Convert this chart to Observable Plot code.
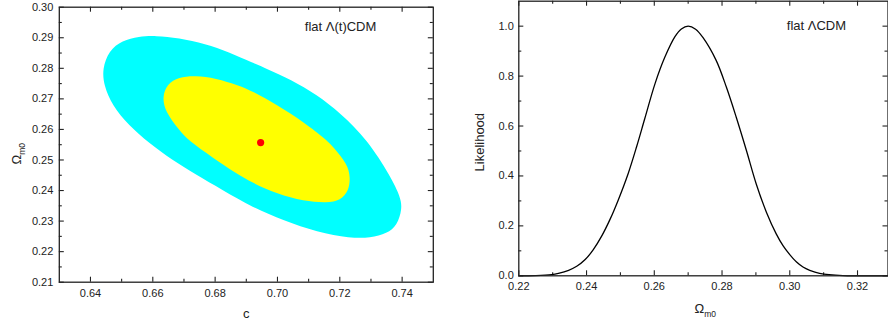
<!DOCTYPE html>
<html><head><meta charset="utf-8">
<script src="https://cdn.jsdelivr.net/npm/d3@7"></script>
<script src="https://cdn.jsdelivr.net/npm/@observablehq/plot@0.6"></script>
<style>
html,body{margin:0;padding:0;background:#fff;overflow:hidden}
body{width:888px;height:327px;position:relative;font-family:"Liberation Sans",Arial,sans-serif}
#left,#right{position:absolute;top:0;width:450px;height:327px}
#left{left:0}
#right{left:440px}
</style></head>
<body><div id="left"></div><div id="right"></div>
<script>
// ---------- data ----------
const cTicks = [0.64, 0.66, 0.68, 0.70, 0.72, 0.74];
const cMinor = [0.65, 0.67, 0.69, 0.71, 0.73];
const omTicks = [0.21, 0.22, 0.23, 0.24, 0.25, 0.26, 0.27, 0.28, 0.29, 0.30];
const omMinor = [0.215, 0.225, 0.235, 0.245, 0.255, 0.265, 0.275, 0.285, 0.295];
const omRTicks = [0.22, 0.24, 0.26, 0.28, 0.30, 0.32];
const omRMinor = [0.23, 0.25, 0.27, 0.29, 0.31];
const likeTicks = [0.0, 0.2, 0.4, 0.6, 0.8, 1.0];
const likeMinor = [0.1, 0.3, 0.5, 0.7, 0.9];

// 2-sigma (outer) and 1-sigma (inner) contour outlines [c, Omega_m0]
const outerContour = [
  [0.6438,0.2798],[0.6459,0.2858],[0.6502,0.2891],[0.6555,0.2904],[0.6609,0.2907],
  [0.6683,0.2899],[0.6769,0.2880],[0.6844,0.2853],[0.6920,0.2818],[0.6967,0.2798],
  [0.7042,0.2764],[0.7127,0.2713],[0.7202,0.2653],[0.7288,0.2567],[0.7363,0.2446],
  [0.7395,0.2378],[0.7400,0.2340],[0.7384,0.2286],[0.7352,0.2260],[0.7298,0.2245],
  [0.7234,0.2244],[0.7127,0.2264],[0.7020,0.2302],[0.6920,0.2345],[0.6823,0.2402],
  [0.6737,0.2453],[0.6662,0.2500],[0.6587,0.2556],[0.6523,0.2613],[0.6470,0.2678],
  [0.6443,0.2744]
];
const innerContour = [
  [0.6630,0.2706],[0.6646,0.2749],[0.6683,0.2771],[0.6737,0.2776],[0.6801,0.2768],
  [0.6876,0.2744],[0.6920,0.2725],[0.6999,0.2680],[0.7084,0.2624],[0.7159,0.2564],
  [0.7181,0.2540],[0.7224,0.2487],[0.7234,0.2444],[0.7229,0.2400],[0.7202,0.2367],
  [0.7159,0.2360],[0.7084,0.2365],[0.6999,0.2389],[0.6920,0.2425],[0.6865,0.2458],
  [0.6791,0.2509],[0.6716,0.2562],[0.6683,0.2600],[0.6641,0.2656]
];
const bestFit = [[0.6946, 0.2557]];

// likelihood curve for flat LCDM
const omGrid =     [0.2200,0.2250,0.2297,0.2317,0.2347,0.2371,0.2396,0.2420,0.2445,0.2470,0.2494,0.2523,0.2548,0.2572,0.2602,0.2631,0.2661,0.2680,0.2700,
                    0.2722,0.2744,0.2783,0.2813,0.2842,0.2872,0.2901,0.2931,0.2960,0.2980,0.3000,0.3020,0.3039,0.3059,0.3088,0.3157,0.3290];
const likelihood = [0.000, 0.001, 0.005, 0.010, 0.022, 0.038, 0.065, 0.105, 0.160, 0.228, 0.305, 0.410, 0.518, 0.630, 0.769, 0.875, 0.958, 0.989, 1.000,
                    0.988, 0.954, 0.862, 0.755, 0.635, 0.502, 0.368, 0.255, 0.168, 0.121, 0.085, 0.055, 0.035, 0.022, 0.010, 0.001, 0.000];

// ---------- helpers ----------
const INK = "#222";
// inward ticks on all four sides of the frame (inset = frame size minus tick length, in px)
function boxTicks(xs, ys, len, innerW, innerH) {
  const o = {stroke: INK, strokeWidth: 1.1};
  return [
    Plot.ruleX(xs, {x: d => d, insetTop: innerH - len, ...o}),
    Plot.ruleX(xs, {x: d => d, insetBottom: innerH - len, ...o}),
    Plot.ruleY(ys, {y: d => d, insetRight: innerW - len, ...o}),
    Plot.ruleY(ys, {y: d => d, insetLeft: innerW - len, ...o})
  ];
}
function subscriptify(svg) {
  d3.select(svg).selectAll("text").each(function() {
    if (this.textContent === "Ωm0") {
      const s = d3.select(this);
      s.text(null);
      s.append("tspan").text("Ω");
      s.append("tspan").attr("font-size", 8.5).attr("dy", 4).text("m0");
    }
  });
}
const baseStyle = {fontFamily: "'Liberation Sans', Arial, sans-serif", fontSize: "11px", color: INK, background: "#fff", maxWidth: "none", overflow: "visible"};

// ---------- left panel ----------
{
  const W = 450, H = 327, ml = 58.8, mr = 17.2, mt = 6.7, mb = 45.3;
  const innerW = W - ml - mr, innerH = H - mt - mb;
  const xd = [0.63, 0.75], yd = [0.21, 0.30];
  const chart = Plot.plot({
    width: W, height: H, marginLeft: ml, marginRight: mr, marginTop: mt, marginBottom: mb,
    style: baseStyle,
    x: {domain: xd, label: null}, y: {domain: yd, label: null},
    marks: [
      Plot.line(outerContour, {x: d => d[0], y: d => d[1], fill: "#00FFFF", stroke: "none", curve: "basis-closed"}),
      Plot.line(innerContour, {x: d => d[0], y: d => d[1], fill: "#FFFF00", stroke: "none", curve: "basis-closed"}),
      Plot.dot(bestFit, {x: d => d[0], y: d => d[1], r: 3.6, fill: "#FF0000", stroke: "none"}),
      ...boxTicks(cTicks, omTicks, 5, innerW, innerH),
      ...boxTicks(cMinor, omMinor, 3, innerW, innerH),
      Plot.frame({stroke: INK, strokeWidth: 1.3}),
      Plot.axisX(cTicks, {tickSize: 0, tickPadding: 7, tickFormat: d => d.toFixed(2), fontSize: 11, fill: INK, label: null}),
      Plot.axisY(omTicks, {tickSize: 0, tickPadding: 6, tickFormat: d => d.toFixed(2), fontSize: 11, fill: INK, label: null}),
      Plot.text(["c"], {frameAnchor: "bottom", text: d => d, dy: 31.5, lineAnchor: "middle", fontSize: 13, fill: INK}),
      Plot.text(["Ωm0"], {frameAnchor: "left", text: d => d, dx: -42.5, dy: 9, rotate: -90, lineAnchor: "middle", textAnchor: "middle", fontSize: 13, fill: INK}),
      Plot.text(["flat Λ(t)CDM"], {frameAnchor: "top-right", text: d => d, dx: -128.5, dy: 20, textAnchor: "start", lineAnchor: "middle", fontSize: 13, fill: INK})
    ]
  });
  subscriptify(chart);
  document.getElementById("left").appendChild(chart);
}

// ---------- right panel ----------
{
  const W = 450, H = 327, ml = 78.3, mr = 2.5, mt = 0.7, mb = 51.7;
  const innerW = W - ml - mr, innerH = H - mt - mb;
  const xd = [0.22, 0.329], yd = [0, 1.1];
  const pts = omGrid.map((om, i) => ({om, L: likelihood[i]}));
  const chart = Plot.plot({
    width: W, height: H, marginLeft: ml, marginRight: mr, marginTop: mt, marginBottom: mb,
    style: baseStyle,
    x: {domain: xd, label: null}, y: {domain: yd, label: null},
    marks: [
      ...boxTicks(omRTicks, likeTicks, 5, innerW, innerH),
      ...boxTicks(omRMinor, likeMinor, 3, innerW, innerH),
      Plot.line(pts, {x: "om", y: "L", curve: "catmull-rom", stroke: "#000", strokeWidth: 1.3}),
      Plot.frame({stroke: INK, strokeWidth: 1.3}),
      Plot.axisX(omRTicks, {tickSize: 0, tickPadding: 6, tickFormat: d => d.toFixed(2), fontSize: 11, fill: INK, label: null}),
      Plot.axisY(likeTicks, {tickSize: 0, tickPadding: 5, tickFormat: d => d.toFixed(1), fontSize: 11, fill: INK, label: null}),
      Plot.text(["Ωm0"], {frameAnchor: "bottom", text: d => d, dx: 1.8, dy: 33.2, lineAnchor: "middle", textAnchor: "middle", fontSize: 13, fill: INK}),
      Plot.text(["Likelihood"], {frameAnchor: "left", text: d => d, dx: -38.8, dy: 3.7, rotate: -90, lineAnchor: "middle", textAnchor: "middle", fontSize: 13, fill: INK}),
      Plot.text(["flat ΛCDM"], {frameAnchor: "top-right", text: d => d, dx: -101.2, dy: 24.8, textAnchor: "start", lineAnchor: "middle", fontSize: 13, fill: INK})
    ]
  });
  subscriptify(chart);
  document.getElementById("right").appendChild(chart);
}
</script>
</body></html>
